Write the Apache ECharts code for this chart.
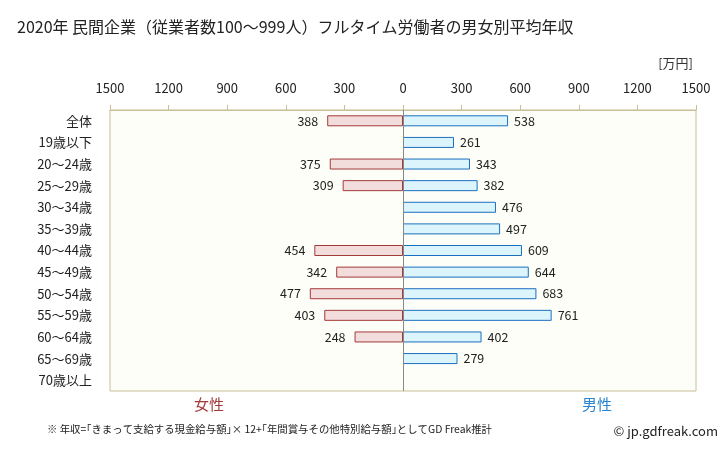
<!DOCTYPE html>
<html><head><meta charset="utf-8">
<script src="https://cdn.jsdelivr.net/npm/echarts@6/dist/echarts.min.js"></script>
<style>html,body{margin:0;padding:0;background:#fff}#c{width:728px;height:451px}</style>
</head><body><div id="c"></div>
<script>
const categories = ['全体','19歳以下','20〜24歳','25〜29歳','30〜34歳','35〜39歳','40〜44歳','45〜49歳','50〜54歳','55〜59歳','60〜64歳','65〜69歳','70歳以上'];
const female = [388, null, 375, 309, null, null, 454, 342, 477, 403, 248, null, null];
const male = [538, 261, 343, 382, 476, 497, 609, 644, 683, 761, 402, 279, null];
const tickValues = [-1500,-1200,-900,-600,-300,0,300,600,900,1200,1500];

const FONT = '"Noto Sans CJK JP", "Noto Sans", sans-serif';
const chart = echarts.init(document.getElementById('c'));
chart.setOption({
  animation: false,
  textStyle: {fontFamily: FONT},
  title: [
    {text: '2020年 民間企業（従業者数100〜999人）フルタイム労働者の男女別平均年収', left: 12, top: 14,
     textStyle: {fontSize: 16, fontWeight: 'normal', color: '#222', fontFamily: FONT}},
  ],
  graphic: [
    {type: 'text', right: 35, top: 57, style: {text: '[万円]', fill: '#333', font: '13px ' + FONT}},
    {type: 'text', left: 194, top: 397, style: {text: '女性', fill: '#a33a3a', font: '15px ' + FONT}},
    {type: 'text', left: 582, top: 397, style: {text: '男性', fill: '#2a85d0', font: '15px ' + FONT}},
    {type: 'text', left: 47, top: 424, style: {text: '※ 年収=｢きまって支給する現金給与額｣× 12+｢年間賞与その他特別給与額｣としてGD Freak推計', fill: '#222', font: '10.4px ' + FONT}},
    {type: 'text', right: 10, top: 425, style: {text: '© jp.gdfreak.com', fill: '#222', font: '13px ' + FONT}}
  ],
  grid: {left: 110, right: 32, top: 110, height: 281, show: true, backgroundColor: '#fefef8', borderColor: '#c8bf98', borderWidth: 1},
  xAxis: {
    type: 'value', position: 'top', min: -1500, max: 1500, interval: 300,
    axisLine: {show: true, lineStyle: {color: '#c8bf98'}},
    axisTick: {show: true, length: 5, lineStyle: {color: '#c8bf98'}},
    splitLine: {show: false},
    axisLabel: {margin: 15, fontSize: 13, color: '#222', fontFamily: FONT, formatter: v => String(Math.abs(v))}
  },
  yAxis: {
    type: 'category', data: categories, inverse: true,
    axisLine: {show: false}, axisTick: {show: false},
    axisLabel: {margin: 18, fontSize: 13, color: '#222', fontFamily: FONT}
  },
  series: [
    {
      name: '女性', type: 'bar', stack: 'a', barWidth: 11,
      data: female.map(v => v == null ? '-' : -v),
      itemStyle: {color: '#f2dcdc', borderColor: '#a33a3a', borderWidth: 1},
      label: {show: true, position: 'left', distance: 9, fontSize: 12.5, color: '#222', fontFamily: FONT, formatter: p => Math.abs(p.value)},
      markLine: {silent: true, symbol: 'none', label: {show: false}, lineStyle: {color: '#888', type: 'solid', width: 1}, data: [{xAxis: 0}]}
    },
    {
      name: '男性', type: 'bar', stack: 'a', barWidth: 11,
      data: male.map(v => v == null ? '-' : v),
      itemStyle: {color: '#dcf4fc', borderColor: '#1a70c0', borderWidth: 1},
      label: {show: true, position: 'right', distance: 6, fontSize: 12.5, color: '#222', fontFamily: FONT}
    }
  ]
});
</script></body></html>
